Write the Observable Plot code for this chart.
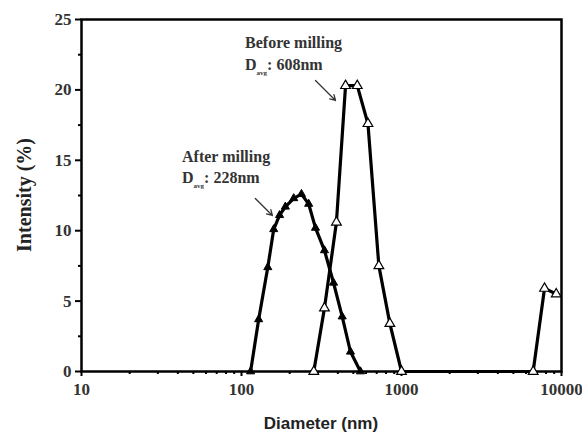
<!DOCTYPE html>
<html><head><meta charset="utf-8">
<script src="https://cdn.jsdelivr.net/npm/d3@7"></script>
<script src="https://cdn.jsdelivr.net/npm/@observablehq/plot@0.6"></script>
<style>body{margin:0;background:#fff}</style>
</head><body><div id="chart"></div>
<script>
// After milling (filled triangles)
const afterDiameter = [114,128,146,159,173,188,212,237,263,290,330,376,426,480,554];
const afterIntensity = [0,3.7,7.4,10.1,11.1,11.7,12.3,12.6,11.9,10.2,8.6,6.3,3.9,1.4,0];
// Before milling (open triangles)
const beforeDiameter = [283,330,392,447,529,617,722,846,1000,6650,7830,9270];
const beforeIntensity = [0,4.5,10.6,20.3,20.3,17.6,7.5,3.4,0,0,5.9,5.5];
// ticks
const xMajor = [10,100,1000,10000];
const xMinor = [20,30,40,50,60,70,80,90,200,300,400,500,600,700,800,900,2000,3000,4000,5000,6000,7000,8000,9000];
const yMajor = [0,5,10,15,20,25];
const yMinor = [2.5,7.5,12.5,17.5,22.5];
// annotations
const annTitles = ["Before milling","After milling"];
const annValues = [": 608nm",": 228nm"];
const annX = [106,42.8];
const annY1 = [22.94,14.84];
const annY2 = [21.38,13.35];
const arrowX1 = [290,122], arrowY1 = [20.67,12.29], arrowX2 = [387,156], arrowY2 = [19.25,11.08];

const after = afterDiameter.map((d,i)=>({d, v: afterIntensity[i]}));
const before = beforeDiameter.map((d,i)=>({d, v: beforeIntensity[i]}));
const arrows = arrowX1.map((x,i)=>({x1:x,y1:arrowY1[i],x2:arrowX2[i],y2:arrowY2[i]}));

const plot = Plot.plot({
  width:582, height:432,
  marginLeft:81, marginRight:21, marginTop:19, marginBottom:61,
  style:{fontFamily:"'Liberation Serif', serif", fontWeight:"bold", fontSize:"17px", color:"#000", background:"#fff"},
  x:{type:"log", domain:[10,10000]},
  y:{domain:[0,25]},
  marks:[
    Plot.axisX(xMinor, {tickSize:3, strokeWidth:2, fill:"none", label:null}),
    Plot.axisX(xMajor, {tickSize:5, strokeWidth:2, tickPadding:6, tickFormat:d=>String(d), fill:"#333", label:null}),
    Plot.axisY(yMinor, {tickSize:3, strokeWidth:2, fill:"none", label:null}),
    Plot.axisY(yMajor, {tickSize:6, strokeWidth:2, tickPadding:4, fill:"#333", label:null}),
    Plot.frame({stroke:"#000", strokeWidth:2.5}),
    Plot.line(after, {x:"d", y:"v", stroke:"#000", strokeWidth:3.2}),
    Plot.line(before, {x:"d", y:"v", stroke:"#000", strokeWidth:3.2}),
    Plot.dot(after, {x:"d", y:"v", symbol:"triangle", r:3, fill:"#000", stroke:"#000", strokeWidth:1}),
    Plot.dot(before, {x:"d", y:"v", symbol:"triangle", r:3.6, fill:"#fff", stroke:"#000", strokeWidth:1.2}),
    Plot.arrow(arrows, {x1:"x1", y1:"y1", x2:"x2", y2:"y2", stroke:"#333", strokeWidth:1.3, headLength:7})
  ]
});
document.getElementById("chart").appendChild(plot);

const sx = plot.scale("x"), sy = plot.scale("y");
const svg = d3.select(plot);
const g = svg.append("g").attr("fill","#333").attr("text-anchor","start")
  .attr("font-family","'Liberation Serif', serif").attr("font-weight","bold");
annTitles.forEach((t,i)=>{
  const x = sx.apply(annX[i]);
  g.append("text").attr("x",x).attr("y",sy.apply(annY1[i])).attr("font-size",16).text(t);
  const t2 = g.append("text").attr("x",x).attr("y",sy.apply(annY2[i])).attr("font-size",16);
  t2.append("tspan").text("D");
  t2.append("tspan").attr("font-size",7).attr("dy",5).text("avg");
  t2.append("tspan").attr("dy",-5).text(annValues[i]);
});
svg.append("text").attr("x",321).attr("y",429).attr("text-anchor","middle")
  .attr("font-family","'Liberation Sans', Arial, sans-serif").attr("font-weight","bold").attr("font-size",17).attr("fill","#222")
  .text("Diameter (nm)");
svg.append("text").attr("transform","translate(31,195) rotate(-90)").attr("text-anchor","middle")
  .attr("font-family","'Liberation Serif', serif").attr("font-weight","bold").attr("font-size",20).attr("fill","#222")
  .text("Intensity (%)");
</script>
</body></html>
